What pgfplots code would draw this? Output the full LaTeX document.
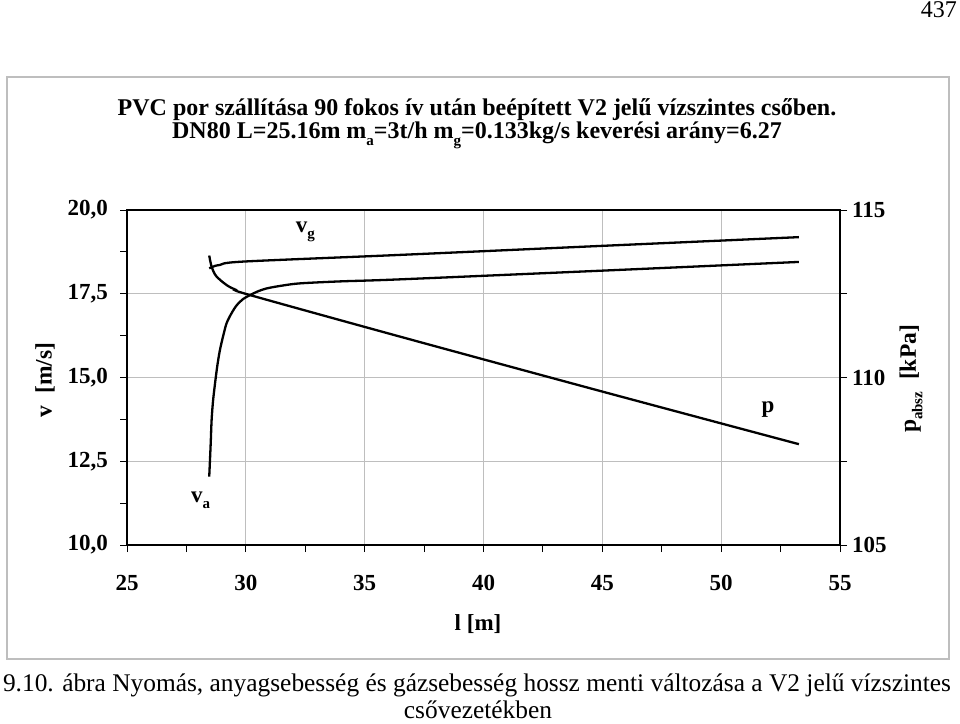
\documentclass[border=0pt]{standalone}
\usepackage{pgfplots}
\pgfplotsset{compat=1.18}
\usepackage{fontspec}
\setmainfont{Liberation Serif}
\newcommand{\fs}[1]{\fontsize{#1}{#1}\selectfont}
\newcommand{\sub}[1]{\raisebox{-0.28em}{\fontsize{15}{15}\selectfont #1}}
\definecolor{gridgray}{RGB}{190,190,190}
\begin{document}
\begin{tikzpicture}[x=1pt,y=1pt]
\path[use as bounding box] (0,0) rectangle (960,-723);
\draw[color=gridgray, line width=1.5] (7,-77) rectangle (949,-659);
\node[anchor=base east, font=\fs{24}, inner sep=0] at (957,-17) {437};
\node[font=\fs{24}\bfseries, inner sep=0] at (477,-110) {PVC por szállítása 90 fokos ív után beépített V2 jelű vízszintes csőben.};
\node[font=\fs{24}\bfseries, inner sep=0] at (477,-135) {DN80 L=25.16m m\sub{a}=3t/h m\sub{g}=0.133kg/s keverési arány=6.27};
\node[font=\fs{25.4}, inner sep=0] at (477,-685) {9.10. ábra Nyomás, anyagsebesség és gázsebesség hossz menti változása a V2 jelű vízszintes};
\node[font=\fs{25.4}, inner sep=0] at (478,-710) {csővezetékben};
\node[font=\fs{23.5}\bfseries, rotate=90, inner sep=0] at (45,-380) {v~~[m/s]};
\node[font=\fs{23.5}\bfseries, rotate=90, inner sep=0] at (911,-379) {p\sub{absz}~~[kPa]};
\node[font=\fs{23}\bfseries, inner sep=0] at (478,-624) {l [m]};

\begin{axis}[at={(127pt,-545pt)}, anchor=south west, scale only axis,
  width=713pt, height=335pt,
  xmin=25, xmax=55, ymin=10, ymax=20,
  xtick={25,30,35,40,45,50,55},
  minor xtick={27.5,32.5,37.5,42.5,47.5,52.5},
  ytick={10,12.5,15,17.5,20},
  yticklabels={{10,0},{12,5},{15,0},{17,5},{20,0}},
  xticklabels={25,30,35,40,45,50,55},
  minor ytick={11.25,13.75,16.25,18.75},
  xtick pos=bottom, ytick pos=left,
  tick align=outside,
  major tick length=7pt, minor tick length=7pt,
  tick style={black, line width=1pt},
  grid=major, major grid style={gridgray, line width=1pt},
  axis line style={line width=2pt},
  ticklabel style={font=\fs{23}\bfseries},
  xticklabel style={anchor=center, yshift=-31pt},
  yticklabel style={anchor=east, inner sep=0pt, xshift=-12pt},
  clip=false]
\addplot[black, line width=2.3pt, smooth, tension=0.5] coordinates {
(28.46,12.04) (28.52,13.0) (28.56,13.73) (28.62,14.3) (28.70,14.8) (28.80,15.35)
(28.91,15.82) (29.05,16.25) (29.19,16.62) (29.40,16.92) (29.62,17.16) (29.90,17.35)
(30.18,17.46) (30.50,17.57) (30.88,17.66) (31.5,17.74) (32.28,17.81) (34.0,17.87)
(36.49,17.93) (45,18.19) (53.27,18.45)};
\addplot[black, line width=2.3pt, smooth, tension=0.5] coordinates {
(28.46,18.26) (28.7,18.33) (28.91,18.36) (29.88,18.46) (36.49,18.66) (45,18.93) (53.27,19.19)};
\node[font=\fs{23}\bfseries] at (axis cs:32.5,19.34) {v\sub{g}};
\node[font=\fs{23}\bfseries] at (axis cs:28.1,11.34) {v\sub{a}};
\end{axis}

\begin{axis}[at={(127pt,-545pt)}, anchor=south west, scale only axis,
  width=713pt, height=335pt,
  xmin=25, xmax=55, ymin=105, ymax=115,
  axis x line=none, axis y line*=right,
  ytick={105,110,115}, yticklabels={105,110,115},
  minor ytick={107.5,112.5},
  tick align=outside,
  major tick length=7pt, minor tick length=7pt,
  tick style={black, line width=1pt},
  axis line style={line width=2pt},
  ticklabel style={font=\fs{23}\bfseries},
  yticklabel style={anchor=west, inner sep=0pt, xshift=5pt},
  clip=false]
\addplot[black, line width=2.3pt, smooth, tension=0.5] coordinates {
(28.46,113.64) (28.56,113.31) (28.75,113.03) (29.19,112.76) (29.6,112.61) (30.18,112.46) (36.49,111.22) (45,109.58) (53.27,108.01)};
\node[font=\fs{23}\bfseries] at (axis cs:51.97,109.03) {p};
\end{axis}
\end{tikzpicture}
\end{document}
